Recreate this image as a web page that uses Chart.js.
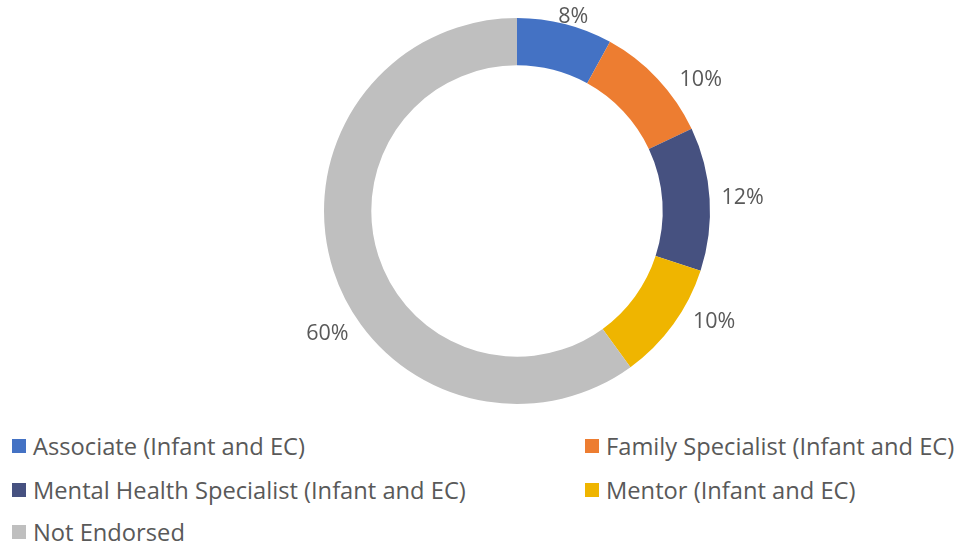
<!DOCTYPE html>
<html>
<head>
<meta charset="utf-8">
<script src="https://cdn.jsdelivr.net/npm/chart.js@4/dist/chart.umd.min.js"></script>
<style>
  body { margin: 0; background: #fff; font-family: "Open Sans", sans-serif; color: #595959; }
  #wrap { position: relative; width: 962px; height: 544px; }
  #chartBox { position: absolute; left: 0; top: 0; width: 962px; height: 422px; }
  #legend { position: absolute; left: 0; top: 424px; width: 962px; }
  .item { position: absolute; display: flex; align-items: center; font-size: 23.7px; line-height: 28px; height: 28px; white-space: nowrap; }
  .sw { width: 14px; height: 14px; margin-right: 7px; }
</style>
</head>
<body>
<div id="wrap">
  <div id="chartBox"><canvas id="chart"></canvas></div>
  <div id="legend"></div>
</div>
<script>
const categories = [
    'Associate (Infant and EC)',
    'Family Specialist (Infant and EC)',
    'Mental Health Specialist (Infant and EC)',
    'Mentor (Infant and EC)',
    'Not Endorsed'
];

const shares = [8, 10, 12, 10, 60];

const colors = ['#4472C4', '#ED7D31', '#465180', '#EFB500', '#BFBFBF'];

// label placement tweaks (degrees) so the labels sit where the original has them
const labelNudge = [0, 7.6, 0.3, -6.7, -15];

const legendSlots = [
    { x: 12, y: 22 }, { x: 585, y: 22 },
    { x: 12, y: 66 }, { x: 585, y: 66 },
    { x: 12, y: 108 }
];

const outsideLabels = {
    id: 'outsideLabels',
    afterDatasetsDraw(chart) {
        const ctx = chart.ctx;
        const meta = chart.getDatasetMeta(0);
        ctx.save();
        ctx.font = '21.5px "Open Sans"';
        ctx.fillStyle = '#595959';
        ctx.textAlign = 'center';
        ctx.textBaseline = 'middle';
        meta.data.forEach((arc, i) => {
            const mid = (arc.startAngle + arc.endAngle) / 2 + labelNudge[i] * Math.PI / 180;
            const r = arc.outerRadius + 33;
            const x = arc.x + Math.cos(mid) * r;
            let y = arc.y + Math.sin(mid) * r;
            y = Math.max(y, 17);
            ctx.fillText(shares[i] + '%', x, y);
        });
        ctx.restore();
    }
};

new Chart(document.getElementById('chart'), {
    type: 'doughnut',
    data: {
        labels: categories,
        datasets: [{
            data: shares,
            backgroundColor: colors,
            borderWidth: 0
        }]
    },
    options: {
        responsive: true,
        maintainAspectRatio: false,
        animation: false,
        cutout: '75.5%',
        layout: {
            padding: { left: 72, right: 0, top: 18, bottom: 18 }
        },
        plugins: {
            legend: { display: false },
            tooltip: { enabled: false }
        }
    },
    plugins: [outsideLabels]
});

const legend = document.getElementById('legend');
categories.forEach((name, i) => {
    const item = document.createElement('div');
    item.className = 'item';
    item.style.left = legendSlots[i].x + 'px';
    item.style.top = (legendSlots[i].y - 14) + 'px';
    item.innerHTML = '<span class="sw" style="background:' + colors[i] + '"></span><span>' + name + '</span>';
    legend.appendChild(item);
});
</script>
</body>
</html>
